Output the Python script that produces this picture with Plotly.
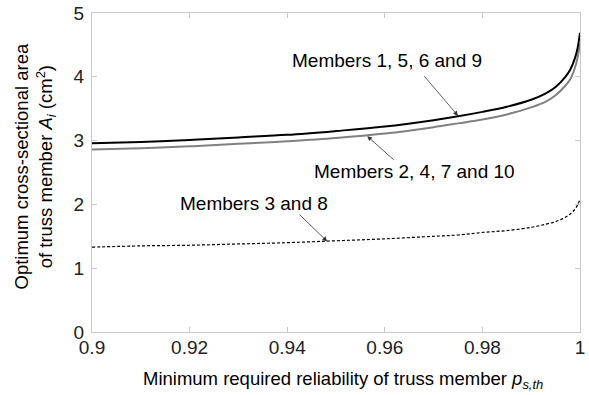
import plotly.graph_objects as go

# Minimum required reliability p_s,th
p_th = [0.9, 0.91, 0.92, 0.93, 0.94, 0.95, 0.96, 0.97, 0.975, 0.98, 0.985,
        0.99, 0.993, 0.995, 0.997, 0.998, 0.999, 0.9995, 1.0]

# Optimum cross-sectional areas (cm^2)
area_1_5_6_9 = [2.96, 2.98, 3.01, 3.05, 3.09, 3.15, 3.22, 3.32, 3.38, 3.45, 3.53,
                3.64, 3.74, 3.84, 4.00, 4.11, 4.30, 4.45, 4.69]
area_2_4_7_10 = [2.86, 2.88, 2.91, 2.95, 2.99, 3.04, 3.11, 3.21, 3.27, 3.33, 3.41,
                 3.52, 3.61, 3.71, 3.86, 3.96, 4.15, 4.30, 4.52]
area_3_8 = [1.33, 1.35, 1.36, 1.38, 1.40, 1.43, 1.46, 1.50, 1.52, 1.56, 1.59,
            1.64, 1.69, 1.73, 1.80, 1.85, 1.93, 1.99, 2.08]

x_ticks = [0.9, 0.92, 0.94, 0.96, 0.98, 1.0]
x_tick_text = ["0.9", "0.92", "0.94", "0.96", "0.98", "1"]
y_ticks = [0, 1, 2, 3, 4, 5]

FONT = "Liberation Sans, Arial, sans-serif"

fig = go.Figure()
fig.add_trace(go.Scatter(x=p_th, y=area_2_4_7_10, mode="lines", line_shape="spline",
                         line=dict(color="#808080", width=2), showlegend=False))
fig.add_trace(go.Scatter(x=p_th, y=area_1_5_6_9, mode="lines", line_shape="spline",
                         line=dict(color="#000000", width=2), showlegend=False))
fig.add_trace(go.Scatter(x=p_th, y=area_3_8, mode="lines", line_shape="spline",
                         line=dict(color="#000000", width=1.2, dash="3px,2px"),
                         showlegend=False))

axis_common = dict(showline=True, linecolor="#c8c8c8", linewidth=1, mirror="ticks",
                   ticks="inside", ticklen=5, tickcolor="#c8c8c8", showgrid=False,
                   zeroline=False, automargin=False,
                   tickfont=dict(family=FONT, size=19, color="#222222"))

fig.update_xaxes(range=[0.9, 1.0], tickvals=x_ticks, ticktext=x_tick_text,
                 ticklabelstandoff=-2, **axis_common)
fig.update_yaxes(range=[0, 5], tickvals=y_ticks, ticklabelstandoff=3, **axis_common)

arrow = dict(showarrow=True, arrowhead=2, arrowsize=1.2, arrowwidth=0.8,
             arrowcolor="#333333", axref="pixel", ayref="pixel", text="")
fig.add_annotation(x=0.975, y=3.39, ax=-35, ay=-41, **arrow)
fig.add_annotation(x=0.9564, y=3.07, ax=28, ay=25, **arrow)
fig.add_annotation(x=0.9482, y=1.42, ax=-29, ay=-28, **arrow)

label_font = dict(family=FONT, size=19, color="#000000")
title_font = dict(family=FONT, size=18.5, color="#000000")
fig.add_annotation(x=0.9605, y=4.26, text="Members 1, 5, 6 and 9", showarrow=False,
                   font=label_font)
fig.add_annotation(x=0.966, y=2.51, text="Members 2, 4, 7 and 10", showarrow=False,
                   font=label_font)
fig.add_annotation(x=0.9332, y=2.02, text="Members 3 and 8", showarrow=False,
                   font=label_font)

fig.add_annotation(xref="paper", yref="paper", x=0.514, y=-0.150, yanchor="middle",
                   text="Minimum required reliability of truss member "
                        "<i>p</i><sub><i>s,th</i></sub>",
                   showarrow=False, font=title_font)
fig.add_annotation(xref="paper", yref="paper", x=-0.116, y=0.52, textangle=-90,
                   xanchor="center", yanchor="middle",
                   text="Optimum cross-sectional area<br>of truss member "
                        "<i>A</i><sub><i>i</i></sub> (cm<sup>2</sup>)",
                   showarrow=False, font=title_font)

fig.update_layout(width=589, height=395, margin=dict(l=92, r=9, t=13, b=63),
                  paper_bgcolor="white", plot_bgcolor="white", showlegend=False)

fig.write_html("out.html")
